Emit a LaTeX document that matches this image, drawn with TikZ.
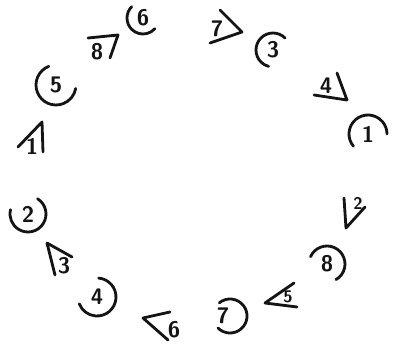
\documentclass[tikz,border=0pt]{standalone}
\usepackage{tikz}
\definecolor{SketchInk}{gray}{0.08}
\tikzset{
    sketch/diagram/.style={
        draw=SketchInk,
        text=SketchInk,
        line width=2pt,
        line cap=round,
        line join=round,
        every node/.style={inner sep=0pt, outer sep=0pt}
    },
    sketch/ring/.style={draw=SketchInk, line width=2pt},
    sketch/wedge/.style={draw=SketchInk, line width=2pt},
    sketch/digit/.style={font=\fontsize{16}{19}\selectfont\sffamily\bfseries},
    sketch/small/.style={font=\fontsize{12}{14}\selectfont\sffamily\bfseries}
}

\begin{document}
\begin{tikzpicture}[sketch/diagram, x=0.025cm, y=0.025cm]
    \useasboundingbox (0,0) rectangle (397,351);

    % circled numbers
    \node[sketch/digit] (r6) at (143,333) {6};
    \node[sketch/digit] (r3) at (273,301) {3};
    \node[sketch/digit] (r1) at (368,217) {1};
    \node[sketch/digit] (r8) at (327,87) {8};
    \node[sketch/digit] (r7) at (223,35) {7};
    \node[sketch/digit] (r4) at (97,54) {4};
    \node[sketch/digit] (r2) at (28,137) {2};
    \node[sketch/digit] (r5) at (56,266) {5};
    \draw[sketch/ring] (r6) ++(135:16) arc[start angle=135, end angle=318, radius=16];
    \draw[sketch/ring] (r3) ++(45:17) arc[start angle=45, end angle=255, radius=17];
    \draw[sketch/ring] (r1) ++(220:19) arc[start angle=220, end angle=0, radius=19];
    \draw[sketch/ring] (r8) ++(156:18) arc[start angle=156, end angle=-60, radius=18];
    \draw[sketch/ring] ([xshift=5]r7) ++(129:17) arc[start angle=129, end angle=-135, radius=17];
    \draw[sketch/ring] (r4) ++(85:19) arc[start angle=85, end angle=-159, radius=19];
    \draw[sketch/ring] (r2) ++(58:18) arc[start angle=58, end angle=-194, radius=18];
    \draw[sketch/ring] (r5) ++(111:20) arc[start angle=111, end angle=350, radius=20];

    % numbered arrow heads
    \node[sketch/digit] (w8) at (97,299) {8};
    \node[sketch/digit] (w7) at (217,322) {7};
    \node[sketch/digit] (w4) at (326,265) {4};
    \node[sketch/small] (w2) at (358,148) {2};
    \node[sketch/small] (w5) at (288,54) {5};
    \node[sketch/digit] (w6) at (174,21) {6};
    \node[sketch/digit] (w3) at (64,85) {3};
    \node[sketch/digit] (w1) at (32,205) {1};
    \draw[sketch/wedge] (88,313) -- (118,316) -- (110,293);
    \draw[sketch/wedge] (220,341) -- (242,319) -- (210,308);
    \draw[sketch/wedge] (337,278) -- (347,251) -- (314,256);
    \draw[sketch/wedge] (344,153) -- (346,123) -- (365,144);
    \draw[sketch/wedge] (294,68) -- (265,48) -- (297,44);
    \draw[sketch/wedge] (170,39) -- (143,33) -- (168,11);
    \draw[sketch/wedge] (72,94) -- (47,108) -- (55,76);
    \draw[sketch/wedge] (18,204) -- (42,229) -- (43,199);
\end{tikzpicture}
\end{document}
